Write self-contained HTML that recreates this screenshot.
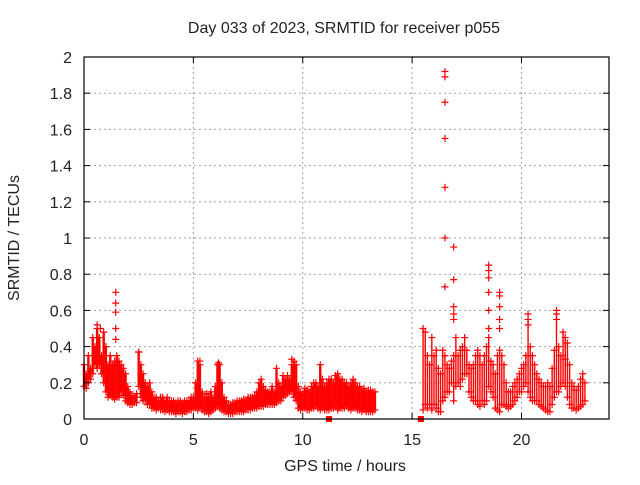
<!DOCTYPE html>
<html><head><meta charset="utf-8"><style>
body{margin:0;background:#fff;}
svg text{font-family:"Liberation Sans",Arial,sans-serif;font-size:16px;fill:#222;}
</style></head><body>
<svg id="chart" width="640" height="480" xmlns="http://www.w3.org/2000/svg">
<rect x="0" y="0" width="640" height="480" fill="#fff"/>
<g id="grid"></g>
<g id="marks"></g>
<g id="axes"></g>
<text x="344" y="33" text-anchor="middle">Day 033 of 2023, SRMTID for receiver p055</text>
<text x="345" y="471" text-anchor="middle">GPS time / hours</text>
<text x="19" y="238" text-anchor="middle" transform="rotate(-90 19 238)">SRMTID / TECUs</text>
</svg>
<script>
const xTicks=[0,5,10,15,20];
const yTicks=[0,0.2,0.4,0.6,0.8,1,1.2,1.4,1.6,1.8,2];
const yTickLabels=["0","0.2","0.4","0.6","0.8","1","1.2","1.4","1.6","1.8","2"];
const segAStart=0.0, segBStart=15.5, sampleStep=0.1;
const segAHigh=[0.30,0.25,0.35,0.28,0.45,0.40,0.5,0.45,0.35,0.48,0.4,0.3,0.35,0.3,0.32,0.35,0.32,0.3,0.28,0.25,0.18,0.15,0.13,0.12,0.14,0.37,0.3,0.25,0.2,0.18,0.2,0.15,0.12,0.12,0.1,0.12,0.12,0.1,0.12,0.1,0.1,0.1,0.09,0.1,0.1,0.09,0.1,0.1,0.1,0.12,0.12,0.2,0.32,0.3,0.15,0.12,0.14,0.12,0.15,0.12,0.18,0.3,0.3,0.2,0.12,0.1,0.08,0.08,0.09,0.09,0.1,0.1,0.1,0.11,0.1,0.12,0.12,0.12,0.13,0.15,0.2,0.22,0.18,0.16,0.15,0.15,0.18,0.15,0.28,0.2,0.18,0.24,0.22,0.24,0.22,0.3,0.32,0.3,0.18,0.15,0.14,0.17,0.16,0.15,0.18,0.2,0.2,0.18,0.3,0.22,0.18,0.2,0.22,0.22,0.2,0.24,0.25,0.22,0.22,0.2,0.2,0.18,0.2,0.22,0.2,0.18,0.18,0.16,0.17,0.15,0.16,0.16,0.15,0.15];
const segALow=[0.18,0.17,0.2,0.22,0.25,0.3,0.28,0.3,0.25,0.2,0.15,0.12,0.13,0.12,0.11,0.12,0.12,0.15,0.13,0.1,0.09,0.08,0.08,0.09,0.09,0.18,0.12,0.1,0.1,0.08,0.08,0.06,0.06,0.05,0.06,0.05,0.05,0.04,0.05,0.04,0.04,0.04,0.03,0.04,0.04,0.03,0.04,0.04,0.05,0.05,0.06,0.06,0.05,0.06,0.05,0.04,0.04,0.03,0.04,0.05,0.06,0.07,0.06,0.05,0.04,0.04,0.03,0.03,0.03,0.04,0.04,0.04,0.04,0.04,0.05,0.05,0.05,0.06,0.06,0.06,0.07,0.07,0.07,0.08,0.08,0.08,0.08,0.08,0.09,0.1,0.1,0.12,0.13,0.14,0.15,0.15,0.12,0.1,0.06,0.05,0.06,0.06,0.05,0.05,0.06,0.06,0.07,0.06,0.05,0.06,0.05,0.05,0.05,0.06,0.06,0.07,0.05,0.06,0.06,0.06,0.07,0.06,0.05,0.06,0.06,0.05,0.05,0.04,0.05,0.04,0.04,0.04,0.04,0.05];
const segBHigh=[0.5,0.48,0.35,0.3,0.45,0.35,0.38,0.28,0.25,0.38,0.35,0.3,0.28,0.32,0.35,0.45,0.35,0.38,0.4,0.45,0.38,0.3,0.28,0.3,0.35,0.38,0.35,0.3,0.35,0.4,0.45,0.32,0.3,0.25,0.35,0.38,0.35,0.3,0.2,0.15,0.15,0.18,0.2,0.22,0.25,0.28,0.3,0.35,0.55,0.4,0.35,0.3,0.25,0.22,0.2,0.18,0.18,0.2,0.18,0.28,0.38,0.58,0.4,0.35,0.48,0.45,0.42,0.3,0.2,0.18,0.16,0.18,0.22,0.25,0.2];
const segBLow=[0.05,0.08,0.06,0.08,0.05,0.08,0.06,0.04,0.04,0.1,0.12,0.15,0.15,0.2,0.1,0.18,0.2,0.18,0.22,0.25,0.25,0.15,0.12,0.1,0.1,0.08,0.07,0.1,0.08,0.1,0.18,0.15,0.12,0.06,0.05,0.04,0.08,0.08,0.07,0.06,0.07,0.08,0.1,0.12,0.15,0.15,0.18,0.2,0.15,0.12,0.1,0.1,0.1,0.08,0.07,0.06,0.05,0.04,0.04,0.08,0.12,0.15,0.15,0.18,0.2,0.18,0.12,0.08,0.06,0.06,0.05,0.06,0.07,0.08,0.1];
const outT=[1.45,1.45,1.45,1.45,1.45,0.6,0.75,2.5,5.3,6.15,9.5,16.5,16.5,16.5,16.5,16.5,16.5,16.5,16.9,16.9,16.9,16.9,16.9,18.5,18.5,18.5,18.5,18.5,18.5,19.0,19.0,19.0,19.0,19.0,20.3,20.3,21.6,21.6,22.0];
const outV=[0.7,0.64,0.59,0.5,0.44,0.52,0.5,0.37,0.32,0.31,0.33,1.92,1.89,1.75,1.55,1.28,1.0,0.73,0.95,0.77,0.62,0.58,0.55,0.85,0.82,0.78,0.7,0.6,0.5,0.7,0.68,0.62,0.55,0.5,0.58,0.52,0.6,0.55,0.33];
const zeroT=[11.2,15.4];

const X0=84,X1=609,Y0=419,Y1=57,XMAX=24,YMAX=2;
const xs=t=>X0+(X1-X0)*t/XMAX;
const ys=v=>Y0-(Y0-Y1)*v/YMAX;
const NS="http://www.w3.org/2000/svg";
function mk(tag,attrs,parent){const e=document.createElementNS(NS,tag);for(const k in attrs)e.setAttribute(k,attrs[k]);parent.appendChild(e);return e;}
const grid=document.getElementById('grid'),marks=document.getElementById('marks'),axes=document.getElementById('axes');
xTicks.forEach(t=>{
  if(t>0){const g=mk('line',{x1:xs(t),x2:xs(t),y1:Y0,y2:Y1,stroke:'#a0a0a0','stroke-dasharray':'2,3'},grid);
  
  }
  mk('line',{x1:xs(t),x2:xs(t),y1:Y0,y2:Y0-6,stroke:'#000'},axes);
  mk('line',{x1:xs(t),x2:xs(t),y1:Y1,y2:Y1+6,stroke:'#000'},axes);
  const l=mk('text',{x:xs(t),y:Y0+26,'text-anchor':'middle'},axes);l.textContent=t;
  
  
});
yTicks.forEach((v,i)=>{
  if(v>0&&v<YMAX){const g=mk('line',{x1:X0,x2:X1,y1:ys(v),y2:ys(v),stroke:'#a0a0a0','stroke-dasharray':'2,3'},grid);
  
  }
  mk('line',{x1:X0,x2:X0+6,y1:ys(v),y2:ys(v),stroke:'#000'},axes);
  mk('line',{x1:X1,x2:X1-6,y1:ys(v),y2:ys(v),stroke:'#000'},axes);
  const l=mk('text',{x:X0-12,y:ys(v)+6,'text-anchor':'end'},axes);l.textContent=yTickLabels[i];
  
  
});
const frame=mk('rect',{x:X0,y:Y1,width:X1-X0,height:Y0-Y1,fill:'none',stroke:'#000','stroke-width':1.2},axes);


function plus(t,v){
  const x=xs(t),y=ys(v);
  const p=mk('path',{d:`M${x-3.5},${y}h7M${x},${y-3.5}v7`,stroke:'#f00','stroke-width':1.2,fill:'none'},marks);
  
  
}
function band(start,hi,lo,w){
  hi.forEach((h,i)=>{
    const t=start+i*sampleStep,l=lo[i];
    const r=mk('rect',{x:xs(t)-w/2,y:ys(h),width:w,height:Math.max(1,ys(l)-ys(h)),fill:'#f00'},marks);
    
    
    plus(t,h);plus(t,l);
  });
}
band(segAStart,segAHigh,segALow,2.4);
band(segBStart,segBHigh,segBLow,1.4);
outT.forEach((t,i)=>plus(t,outV[i]));
zeroT.forEach(t=>{
  const r=mk('rect',{x:xs(t)-3,y:Y0-3,width:6,height:6,fill:'#f00'},marks);
  
  
});
</script>
</body></html>
